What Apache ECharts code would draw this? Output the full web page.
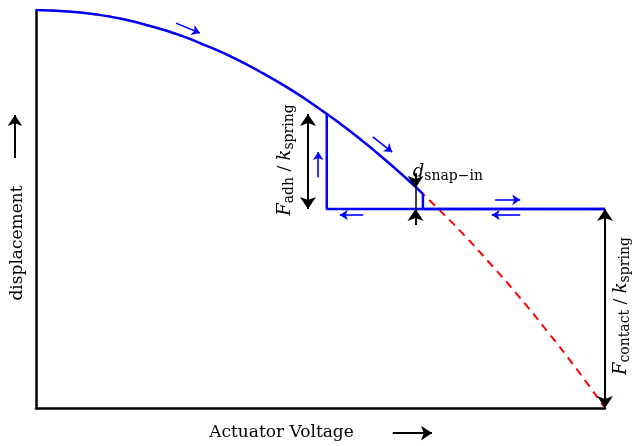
<!DOCTYPE html>
<html>
<head>
<meta charset="utf-8">
<script src="https://cdn.jsdelivr.net/npm/echarts@6/dist/echarts.min.js"></script>
<style>
  html, body { margin: 0; padding: 0; background: #fff; }
  #chart { width: 634px; height: 446px; }
</style>
</head>
<body>
<div id="chart"></div>
<script>
// Normalised actuator voltage and the free deflection of the beam
const voltage      = [0, 0.05, 0.1, 0.15, 0.2, 0.25, 0.3, 0.35, 0.4, 0.45, 0.5, 0.55, 0.6, 0.65, 0.7, 0.75, 0.8, 0.85, 0.9, 0.95, 1];
const displacement = [1, 0.997, 0.99, 0.978, 0.96, 0.938, 0.91, 0.878, 0.84, 0.798, 0.75, 0.698, 0.64, 0.578, 0.51, 0.438, 0.36, 0.278, 0.19, 0.098, 0];

// Snap-in, contact and release levels
const snapIn      = [0.68, 0.538];
const contactY    = 0.5;
const release     = [0.511, 0.739];
const maxVoltage  = 1;

// Direction hints along the loading / unloading path [x0, y0, x1, y1]
const pathHints = [
  [0.246, 0.967, 0.288, 0.942],
  [0.592, 0.681, 0.626, 0.643],
  [0.496, 0.580, 0.496, 0.643],
  [0.575, 0.485, 0.534, 0.485],
  [0.807, 0.523, 0.851, 0.523],
  [0.851, 0.485, 0.801, 0.485]
];

const serif = 'DejaVu Serif';
const chart = echarts.init(document.getElementById('chart'));

const freeCurve = voltage.map((v, i) => [v, displacement[i]]);
const loadCurve = freeCurve.filter(p => p[0] <= 0.65).concat([snapIn]);
const jumpPath  = [snapIn, [snapIn[0], contactY], [maxVoltage, contactY]];
const backPath  = [[maxVoltage, contactY], [release[0], contactY], release];

const subRich = {
  i: { fontFamily: serif, fontStyle: 'italic', fontSize: 18, lineHeight: 22, color: '#000' },
  s: { fontFamily: serif, fontSize: 14, lineHeight: 10, verticalAlign: 'bottom', color: '#000' },
  n: { fontFamily: serif, fontSize: 17, lineHeight: 22, color: '#000' }
};

function textMark(pos, text, rotate, align) {
  return {
    type: 'scatter', symbolSize: 0, silent: true, z: 10, clip: false,
    itemStyle: { opacity: 1 },
    data: [pos],
    label: {
      show: true, position: 'inside', rotate: rotate, opacity: 1,
      align: align || 'center', verticalAlign: 'middle',
      color: '#000', textBorderWidth: 0,
      formatter: text, rich: subRich
    }
  };
}

chart.setOption({
  animation: false,
  grid: { left: 36, right: 29, top: 10, bottom: 38 },
  xAxis: {
    type: 'value', min: 0, max: 1,
    axisLine: { show: true, lineStyle: { color: '#000', width: 2.5 } },
    axisTick: { show: false }, axisLabel: { show: false }, splitLine: { show: false },
    name: 'Actuator Voltage', nameLocation: 'middle', nameGap: 16,
    nameTextStyle: { fontFamily: serif, fontSize: 17, color: '#000', padding: [0, 78, 0, 0] }
  },
  yAxis: {
    type: 'value', min: 0, max: 1,
    axisLine: { show: true, lineStyle: { color: '#000', width: 2.5 } },
    axisTick: { show: false }, axisLabel: { show: false }, splitLine: { show: false },
    name: 'displacement', nameLocation: 'middle', nameGap: 10,
    nameTextStyle: { fontFamily: serif, fontSize: 17, color: '#000', padding: [0, 68, 0, 0] }
  },
  series: [
    {
      type: 'line', data: freeCurve, smooth: true, showSymbol: false, z: 2,
      lineStyle: { color: '#ff0000', width: 2, type: [8, 6] }
    },
    {
      type: 'line', data: loadCurve, smooth: true, showSymbol: false, z: 3,
      lineStyle: { color: '#0000ff', width: 2.5 }
    },
    {
      type: 'line', data: jumpPath, showSymbol: false, z: 3,
      lineStyle: { color: '#0000ff', width: 2.5 }
    },
    {
      type: 'line', data: backPath, showSymbol: false, z: 3,
      lineStyle: { color: '#0000ff', width: 2.5 }
    },
    {
      // blue direction hints
      type: 'lines', coordinateSystem: 'cartesian2d', clip: false, z: 4,
      symbol: ['none', 'arrow'], symbolSize: 8,
      lineStyle: { color: '#0000ff', width: 1.6, opacity: 1 },
      data: pathHints.map(h => ({ coords: [[h[0], h[1]], [h[2], h[3]]] }))
    },
    {
      // dimension arrows (both ends)
      type: 'lines', coordinateSystem: 'cartesian2d', clip: false, z: 5,
      symbol: ['arrow', 'arrow'], symbolSize: 12,
      lineStyle: { color: '#000', width: 2, opacity: 1 },
      data: [
        { coords: [[0.478, release[1]], [0.478, contactY]] },
        { coords: [[maxVoltage, contactY], [maxVoltage, 0]] }
      ]
    },
    {
      // snap-in gap marker, arrows pointing inward
      type: 'lines', coordinateSystem: 'cartesian2d', clip: false, z: 5,
      symbol: ['none', 'arrow'], symbolSize: 12,
      lineStyle: { color: '#000', width: 2, opacity: 1 },
      data: [
        { coords: [[0.667, 0.59], [0.667, 0.553]] },
        { coords: [[0.667, 0.46], [0.667, 0.5]] }
      ]
    },
    {
      type: 'lines', coordinateSystem: 'cartesian2d', clip: false, z: 5,
      symbol: ['none', 'none'],
      lineStyle: { color: '#000', width: 1.5, opacity: 1 },
      data: [{ coords: [[0.667, 0.556], [0.667, 0.5]] }]
    },
    {
      // axis direction arrows
      type: 'lines', coordinateSystem: 'cartesian2d', clip: false, z: 5,
      symbol: ['none', 'arrow'], symbolSize: 11,
      lineStyle: { color: '#000', width: 2, opacity: 1 },
      data: [
        { coords: [[0.627, -0.063], [0.696, -0.063]] },
        { coords: [[-0.037, 0.628], [-0.037, 0.736]] }
      ]
    },
    textMark([0.4376, 0.623], '{i|F}{s|adh}{n| / }{i|k}{s|spring}', 90),
    textMark([1.028, 0.256], '{i|F}{s|contact}{n| / }{i|k}{s|spring}', 90),
    textMark([0.662, 0.593], '{i|d}{s|snap−in}', 0, 'left')
  ]
});
</script>
</body>
</html>
